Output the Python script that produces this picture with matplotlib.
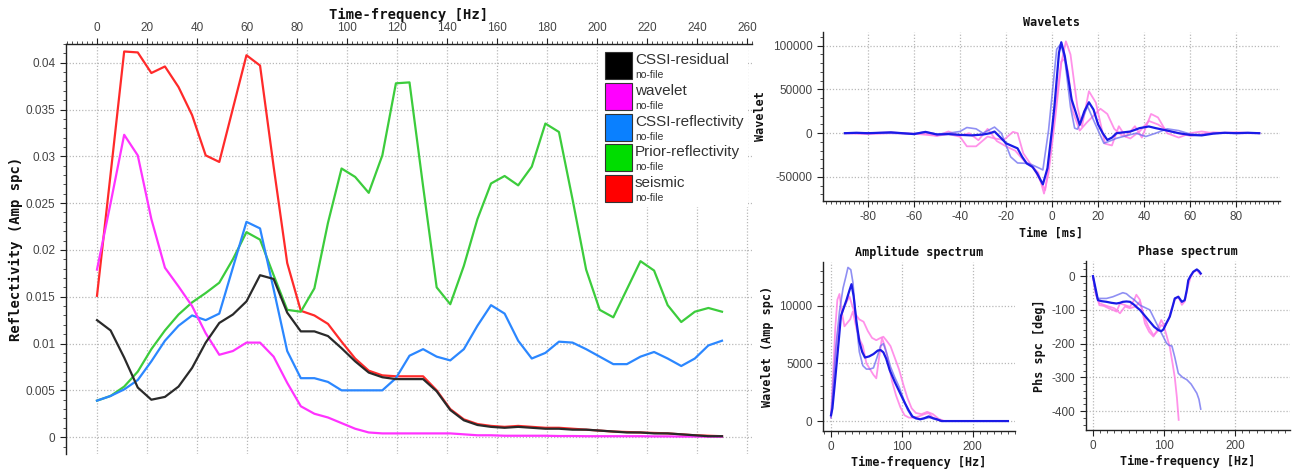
import numpy as np
import matplotlib
matplotlib.use("Agg")
import matplotlib.pyplot as plt
from matplotlib.patches import Rectangle
from matplotlib.ticker import MultipleLocator, FuncFormatter

plt.rcParams["axes.unicode_minus"] = False

# ---------------- main spectrum data ----------------
freq_hz = np.linspace(0, 250, 47)

seismic = [0.0151, 0.0281, 0.0412, 0.0411, 0.0389, 0.0396, 0.0374, 0.0344, 0.0301, 0.0294,
           0.0351, 0.0408, 0.0397, 0.0289, 0.0186, 0.0135, 0.0130, 0.0121, 0.0102, 0.0084,
           0.0071, 0.0066, 0.0065, 0.0065, 0.0065, 0.0050, 0.0030, 0.0019, 0.0014, 0.0012,
           0.0011, 0.0012, 0.0011, 0.0010, 0.0010, 0.0009, 0.0008, 0.0007, 0.0006, 0.00055,
           0.0005, 0.00045, 0.0004, 0.0003, 0.0002, 0.00015, 0.0001]
prior_refl = [0.0039, 0.0044, 0.0054, 0.0070, 0.0094, 0.0114, 0.0131, 0.0144, 0.0154, 0.0165,
              0.0190, 0.0219, 0.0211, 0.0173, 0.0136, 0.0134, 0.0159, 0.0229, 0.0287, 0.0278,
              0.0261, 0.0301, 0.0378, 0.0379, 0.0268, 0.0160, 0.0142, 0.0183, 0.0233, 0.0271,
              0.0279, 0.0269, 0.0289, 0.0335, 0.0326, 0.0254, 0.0179, 0.0136, 0.0128, 0.0158,
              0.0188, 0.0178, 0.0141, 0.0123, 0.0134, 0.0138, 0.0134]
cssi_refl = [0.0039, 0.0044, 0.0051, 0.0061, 0.0081, 0.0103, 0.0119, 0.0130, 0.0125, 0.0132,
             0.0181, 0.0230, 0.0223, 0.0158, 0.0092, 0.0063, 0.0063, 0.0059, 0.0050, 0.0050,
             0.0050, 0.0050, 0.0063, 0.0087, 0.0094, 0.0086, 0.0082, 0.0094, 0.0119, 0.0141,
             0.0132, 0.0103, 0.0084, 0.0090, 0.0102, 0.0101, 0.0094, 0.0086, 0.0078, 0.0078,
             0.0086, 0.0091, 0.0084, 0.0076, 0.0084, 0.0098, 0.0103]
wavelet_spc = [0.0179, 0.0250, 0.0323, 0.0301, 0.0233, 0.0181, 0.0161, 0.0140, 0.0111, 0.0088,
               0.0092, 0.0101, 0.0101, 0.0086, 0.0058, 0.0033, 0.0025, 0.0021, 0.0015, 0.0009,
               0.0005, 0.0004, 0.0004, 0.0004, 0.0004, 0.0004, 0.0004, 0.0003, 0.0002, 0.0002,
               0.00015, 0.00015, 0.00015, 0.00015, 0.00012, 0.00012, 0.0001, 0.0001, 0.0001, 0.0001,
               0.0001, 0.00008, 0.00008, 0.00006, 0.00006, 0.00005, 0.00005]
cssi_resid = [0.0125, 0.0114, 0.0085, 0.0053, 0.0040, 0.0043, 0.0054, 0.0074, 0.0101, 0.0122,
              0.0131, 0.0145, 0.0173, 0.0169, 0.0133, 0.0113, 0.0113, 0.0108, 0.0095, 0.0081,
              0.0069, 0.0064, 0.0062, 0.0062, 0.0062, 0.0049, 0.0029, 0.0018, 0.0013, 0.0011,
              0.0010, 0.0011, 0.0010, 0.0009, 0.0009, 0.0008, 0.0008, 0.0007, 0.0006, 0.0005,
              0.0005, 0.0004, 0.0004, 0.0003, 0.0002, 0.0001, 0.0001]

legend_names = ["CSSI-residual", "wavelet", "CSSI-reflectivity", "Prior-reflectivity", "seismic"]
legend_colors = ["#000000", "#ff00ff", "#0a80ff", "#00dd00", "#ff0000"]

# ---------------- wavelets (time domain) ----------------
wav_t_main = [-90, -85, -80, -75, -70, -65, -60, -55, -50, -45, -40, -35, -30, -27, -25, -22, -20,
              -17, -15, -13, -11, -8.5, -6.5, -4, -2, 0, 1, 3, 4, 5.5, 8.5, 12, 14, 16, 18, 20,
              22, 24, 26, 28, 31, 34, 38, 42, 45, 50, 55, 60, 65, 70, 75, 80, 85, 90]
wav_v_main = [0, 500, 0, 500, 1000, 0, -1000, 1500, -1500, -1000, -1900, -2500, -1500, 0, 1900,
              -6000, -11500, -15000, -17300, -27000, -34600, -38500, -46000, -58500, -40000, 5000,
              30000, 92000, 104000, 88500, 38500, 9600, 25000, 35400, 27000, 10000, 0, -7700,
              -5000, 0, 1000, 1900, 5800, 7700, 5800, 3000, 0, -2000, -2500, -500, 500, 0, 500, 0]

wav_t_lb = [-90, -80, -70, -60, -55, -50, -45, -40, -37, -33, -30, -25, -22, -18, -15, -10, -5.5,
            -4, -1.5, 2, 3.8, 5.5, 8, 9.8, 11, 13, 15.4, 18, 22.5, 25, 28, 32, 36.5, 40.7, 45,
            50, 55, 60, 65, 70, 80, 90]
wav_v_lb = [0, 500, 0, -500, 1500, -1000, 0, 2000, 6500, 5000, 0, 7000, 0, -27000, -34000,
            -34600, -40000, -42000, 4000, 96000, 102000, 85000, 30000, 5800, 4600, 15000, 30800,
            15000, -11500, -9000, -5800, -3000, 0, -3800, 0, 5000, 3000, -1000, -2000, 0, 500, 0]

wav_t_pa = [-90, -80, -70, -60, -50, -45, -40, -37, -33, -28, -25, -21, -17, -15, -12.5, -8.5,
            -6, -3.5, -1.5, 1.5, 4, 6, 8, 11, 13, 16, 19, 23, 26, 29, 32, 36, 39, 43, 46, 50,
            55, 60, 65, 70, 80, 90]
wav_v_pa = [0, -1000, 0, -500, -3000, -1000, -4000, -15000, -15000, -3800, -6000, -7700, 1500, 0,
            -23000, -38500, -45000, -69000, -45000, 20000, 80000, 105000, 90000, 30000, 8000,
            48000, 35000, -12000, -14000, 8000, -4000, 8000, -5000, 22000, 18000, 0, -5000, 0,
            2000, 0, 1000, 0]

wav_t_pb = [-90, -80, -70, -60, -55, -50, -45, -40, -36, -32, -28, -24, -20, -16, -12, -8, -5,
            -3, -1, 2, 4, 5.5, 7, 9, 12, 15, 18, 21, 24, 27, 30, 34, 38, 42, 46, 50, 55, 60, 70,
            80, 90]
wav_v_pb = [0, 0, 1000, -1000, 0, -3000, 2000, -3000, 0, -8000, 5000, -9000, -15000, -20000,
            -32000, -40000, -55000, -65000, -30000, 40000, 82000, 85000, 70000, 25000, 3000,
            12000, 20000, 28000, 22000, 5000, -2000, -6000, 2000, 14000, 10000, 3000, 0, -3000,
            1000, 0, 0]

# ---------------- amplitude spectra ----------------
amp_f_main = [0, 2, 5, 8, 11, 14, 18, 22, 26, 29, 32, 36, 40, 44, 48, 54, 60, 66, 70, 74, 78, 83,
              90, 97, 104, 110, 115, 120, 126, 132, 138, 144, 150, 156, 170, 200, 250]
amp_v_main = [500, 1100, 3000, 5000, 7000, 9100, 9800, 10500, 11300, 11850, 10800, 8600, 6900,
              6000, 5500, 5600, 5800, 6100, 6150, 5950, 5400, 4400, 3400, 2500, 1600, 900, 400,
              250, 150, 250, 400, 250, 150, 0, 0, 0, 0]
amp_f_lb = [0, 3, 7, 12, 17, 21, 24, 28, 31, 35, 40, 45, 50, 55, 60, 65, 70, 74, 78, 84, 90, 96,
            102, 108, 114, 120, 130, 140, 150, 160, 250]
amp_v_lb = [300, 3000, 6500, 9500, 11500, 12500, 13300, 13100, 12000, 9000, 6000, 4800, 4500,
            4500, 4600, 5500, 6500, 6700, 6000, 4700, 3800, 3000, 2000, 1000, 400, 200, 200, 300,
            100, 0, 0]
amp_f_pa = [0, 3, 6, 9, 12, 15, 19, 23, 27, 31, 36, 41, 45, 50, 55, 60, 64, 68, 72, 76, 80, 86,
            92, 98, 104, 110, 116, 124, 132, 138, 144, 150, 160, 250]
amp_v_pa = [500, 4000, 8000, 10500, 11000, 9500, 8200, 8500, 8800, 9500, 8000, 7000, 6500, 5000,
            4500, 4000, 3700, 5500, 7200, 6500, 5500, 3500, 2200, 1200, 500, 300, 300, 400, 600,
            700, 300, 100, 0, 0]
amp_f_pb = [0, 3, 6, 10, 14, 18, 22, 26, 30, 34, 40, 46, 52, 58, 64, 70, 74, 78, 84, 90, 96, 102,
            108, 114, 120, 128, 136, 144, 152, 160, 250]
amp_v_pb = [300, 2500, 5500, 8000, 9000, 9800, 10300, 10800, 10000, 9300, 8800, 8600, 7800, 7200,
            7000, 7200, 7300, 7000, 6500, 5500, 4500, 3200, 2000, 1100, 700, 600, 800, 600, 200,
            0, 0]

# ---------------- phase spectra ----------------
ph_f_main = [0, 4, 7, 12, 19, 26, 33, 38, 42, 47, 52, 58, 62, 66, 72, 80, 86, 92, 96, 99, 103,
             108, 112, 115, 120, 125, 129, 132, 134, 137, 141, 146, 149, 151.5]
ph_v_main = [0, -40, -71, -74, -76, -79, -81, -79, -76, -75, -76, -85, -93, -100, -115, -135,
             -150, -160, -163, -158, -140, -120, -90, -66, -61, -76, -71, -40, -12, 0, 13, 20,
             15, 8]
ph_f_lb = [0, 3, 6, 12, 19, 28, 35, 42, 47, 52, 58, 66, 72, 80, 87, 94, 99, 103.5, 107, 111, 115,
           120, 126, 132, 138, 146, 149, 151.5]
ph_v_lb = [0, -40, -66, -66, -66, -61, -55, -49, -52, -61, -70, -86, -92, -100, -130, -160, -180,
           -199, -205, -207, -240, -288, -300, -307, -320, -347, -365, -394]
ph_f_pa = [0, 4, 9, 15, 22, 28, 33, 38, 44, 52, 58, 61, 66, 73, 79, 85, 89, 92, 96, 101, 106,
           110, 115, 120, 125, 129, 133, 137, 141, 146, 151]
ph_v_pa = [0, -50, -86, -88, -95, -100, -105, -81, -85, -91, -70, -55, -70, -140, -165, -179,
           -165, -150, -130, -150, -130, -100, -70, -60, -85, -75, -35, -5, 12, 18, 5]
ph_f_pb = [0, 4, 9, 15, 22, 30, 38, 45, 52, 60, 66, 72, 78, 85, 90, 96, 100, 104, 108, 112, 115,
           118, 120.5]
ph_v_pb = [0, -55, -80, -85, -90, -95, -110, -90, -95, -90, -75, -120, -150, -175, -165, -145,
           -150, -180, -210, -260, -300, -360, -426]

# ---------------- styling ----------------
W, H = 1304, 469
fig = plt.figure(figsize=(W / 100, H / 100), dpi=100)
fig.patch.set_facecolor("white")

LABEL_FONT = dict(family="DejaVu Sans Mono", weight="bold", color="#111111")
TICK_COLOR = "#444444"
GRID_KW = dict(color="#b8b8b8", linestyle=(0, (1, 1.5)), linewidth=0.9)


def px_axes(left, top, right, bottom):
    return fig.add_axes([left / W, 1 - bottom / H, (right - left) / W, (bottom - top) / H])


def style_axes(ax, spines=("left", "bottom")):
    for s in ("left", "right", "top", "bottom"):
        ax.spines[s].set_visible(s in spines)
        ax.spines[s].set_color("#222222")
        ax.spines[s].set_linewidth(1.0)
    ax.tick_params(which="major", direction="out", length=4, width=0.8, colors="#222222",
                   labelcolor=TICK_COLOR, labelsize=8.5)
    ax.tick_params(which="minor", direction="out", length=2, width=0.6, colors="#333333")
    ax.grid(True, which="major", **GRID_KW)
    ax.set_axisbelow(True)


def tick_font(ax):
    for lbl in ax.get_xticklabels() + ax.get_yticklabels():
        lbl.set_family("Liberation Sans")


# ---------------- main chart ----------------
ax = px_axes(66, 44, 752, 454)
style_axes(ax, spines=("left", "top"))
ax.xaxis.set_ticks_position("top")
ax.xaxis.set_label_position("top")
ax.set_xlim(-12.4, 262)
ax.set_ylim(-0.0018, 0.042)
ax.xaxis.set_minor_locator(MultipleLocator(2))
ax.yaxis.set_minor_locator(MultipleLocator(0.001))
ax.set_xticks(np.arange(0, 261, 20))
ax.set_yticks(np.arange(0, 0.0401, 0.005))
ax.yaxis.set_major_formatter(FuncFormatter(lambda v, p: "%g" % round(v, 4)))
tick_font(ax)
ax.set_xlabel("Time-frequency [Hz]", fontsize=10, labelpad=2, **LABEL_FONT)
ax.set_ylabel("Reflectivity (Amp spc)", fontsize=10, labelpad=2, **LABEL_FONT)

series = [(seismic, "#ff2a2a"), (prior_refl, "#3ccc3c"), (cssi_refl, "#2b87ff"),
          (wavelet_spc, "#ff33ff"), (cssi_resid, "#2a2a2a")]
for vals, col in series:
    ax.plot(freq_hz, vals, color=col, lw=1.6)

# legend: coloured boxes with a name and a small "no-file" caption
fig.patches.append(Rectangle((598 / W, 1 - 207 / H), 150 / W, 160 / H, transform=fig.transFigure,
                             facecolor="white", edgecolor="none", zorder=5))
for k, (name, col) in enumerate(zip(legend_names, legend_colors)):
    top = 52 + 30.8 * k
    fig.patches.append(Rectangle((605 / W, 1 - (top + 27) / H), 27 / W, 27 / H,
                                 transform=fig.transFigure, facecolor=col,
                                 edgecolor="#333333", lw=0.8, zorder=6))
    fig.text(635 / W, 1 - (top + 8) / H, name, fontsize=11, color="#333333",
             family="Liberation Sans", va="center", ha="left", zorder=7)
    fig.text(635 / W, 1 - (top + 23) / H, "no-file", fontsize=7.5, color="#333333",
             family="Liberation Sans", va="center", ha="left", zorder=7)

# ---------------- wavelets panel ----------------
aw = px_axes(823, 32, 1280, 201)
style_axes(aw)
aw.set_xlim(-99.5, 99)
aw.set_ylim(-77500, 115700)
aw.set_xticks(np.arange(-80, 81, 20))
aw.set_yticks([-50000, 0, 50000, 100000])
aw.xaxis.set_minor_locator(MultipleLocator(2))
aw.yaxis.set_minor_locator(MultipleLocator(10000))
tick_font(aw)
aw.plot(wav_t_pa, wav_v_pa, color="#ff7fe6", lw=1.3, alpha=0.85)
aw.plot(wav_t_pb, wav_v_pb, color="#ff7fe6", lw=1.3, alpha=0.85)
aw.plot(wav_t_lb, wav_v_lb, color="#6a6af0", lw=1.2, alpha=0.75)
aw.plot(wav_t_main, wav_v_main, color="#1a1ae6", lw=1.6)
aw.set_title("Wavelets", fontsize=8.5, pad=4, **LABEL_FONT)
aw.set_xlabel("Time [ms]", fontsize=8.5, labelpad=2, **LABEL_FONT)
aw.set_ylabel("Wavelet", fontsize=8.5, labelpad=4, **LABEL_FONT)

# ---------------- amplitude spectrum panel ----------------
aa = px_axes(823, 262, 1015, 431)
style_axes(aa)
aa.set_xlim(-11.3, 260)
aa.set_ylim(-860, 13770)
aa.set_xticks([0, 100, 200])
aa.set_yticks([0, 5000, 10000])
aa.xaxis.set_minor_locator(MultipleLocator(10))
aa.yaxis.set_minor_locator(MultipleLocator(1000))
tick_font(aa)
aa.plot(amp_f_pa, amp_v_pa, color="#ff7fe6", lw=1.3, alpha=0.85)
aa.plot(amp_f_pb, amp_v_pb, color="#ff7fe6", lw=1.3, alpha=0.85)
aa.plot(amp_f_lb, amp_v_lb, color="#6a6af0", lw=1.2, alpha=0.75)
aa.plot(amp_f_main, amp_v_main, color="#1a1ae6", lw=1.6)
aa.set_title("Amplitude spectrum", fontsize=8.5, pad=4, **LABEL_FONT)
aa.set_xlabel("Time-frequency [Hz]", fontsize=8.5, labelpad=2, **LABEL_FONT)
aa.set_ylabel("Wavelet (Amp spc)", fontsize=8.5, labelpad=4, **LABEL_FONT)

# ---------------- phase spectrum panel ----------------
ap = px_axes(1086, 261, 1290, 430)
style_axes(ap)
ap.set_xlim(-9.8, 277)
ap.set_ylim(-456, 45)
ap.set_xticks([0, 100, 200])
ap.set_yticks([0, -100, -200, -300, -400])
ap.xaxis.set_minor_locator(MultipleLocator(10))
ap.yaxis.set_minor_locator(MultipleLocator(20))
tick_font(ap)
ap.plot(ph_f_pa, ph_v_pa, color="#ff7fe6", lw=1.3, alpha=0.85)
ap.plot(ph_f_pb, ph_v_pb, color="#ff7fe6", lw=1.3, alpha=0.85)
ap.plot(ph_f_lb, ph_v_lb, color="#6a6af0", lw=1.2, alpha=0.75)
ap.plot(ph_f_main, ph_v_main, color="#1a1ae6", lw=1.6)
ap.set_title("Phase spectrum", fontsize=8.5, pad=4, **LABEL_FONT)
ap.set_xlabel("Time-frequency [Hz]", fontsize=8.5, labelpad=2, **LABEL_FONT)
ap.set_ylabel("Phs spc [deg]", fontsize=8.5, labelpad=4, **LABEL_FONT)

fig.savefig("out.png", dpi=100, facecolor="white")
